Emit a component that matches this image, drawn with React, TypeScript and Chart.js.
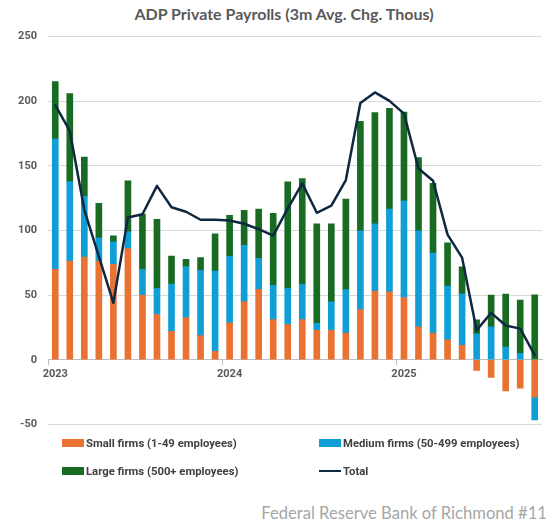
import React, { useEffect, useRef } from 'react';
import { Chart, registerables } from 'chart.js';

Chart.register(...registerables);

const categories = [
  'Jan 2023', 'Feb 2023', 'Mar 2023', 'Apr 2023', 'May 2023', 'Jun 2023',
  'Jul 2023', 'Aug 2023', 'Sep 2023', 'Oct 2023', 'Nov 2023', 'Dec 2023',
  'Jan 2024', 'Feb 2024', 'Mar 2024', 'Apr 2024', 'May 2024', 'Jun 2024',
  'Jul 2024', 'Aug 2024', 'Sep 2024', 'Oct 2024', 'Nov 2024', 'Dec 2024',
  'Jan 2025', 'Feb 2025', 'Mar 2025', 'Apr 2025', 'May 2025', 'Jun 2025',
  'Jul 2025', 'Aug 2025', 'Sep 2025', 'Oct 2025',
];

const smallFirms = [
  70, 76.4, 79.5, 76.4, 73.8, 86, 50, 35, 22, 32.6, 18.7, 6.5,
  28.5, 45, 54.4, 31, 27.2, 31, 22.8, 22.8, 20.7, 38.9, 53.1, 52.6,
  48.2, 25.4, 20.7, 15.5, 11.1, -8.3, -13.7, -24.1, -22, -29,
];

const mediumFirms = [
  101, 61.4, 46.9, 17.9, 17.4, 13, 20, 20.2, 36.6, 39.4, 50.5, 62.2,
  51.5, 43.6, 24.1, 26.5, 28, 27.3, 5.4, 22, 33.5, 60.9, 52.1, 64,
  74.8, 74.4, 61.9, 41.5, 39.9, 20, 25.4, 9.8, 4.9, -17.6,
];

const largeFirms = [
  44.3, 68.2, 30.4, 26.7, 4.7, 39.4, 42.7, 53.4, 21.7, 5.7, 9.8, 28.7,
  31.7, 27, 38.1, 55.7, 82.4, 81.9, 77, 60.4, 70.2, 84.7, 86, 78,
  68.7, 56.7, 53.9, 33.4, 20.8, 10.8, 24.6, 41, 41.2, 50.3,
];

const total = [
  197, 177, 116, 80, 44, 110, 112.6, 134.5, 118, 114.5, 108.3, 108.3,
  107.8, 105.2, 101, 96, 117, 136.5, 113.7, 119.2, 139, 198.7, 206.8, 200.3,
  190.4, 148, 138.5, 96.8, 79, 22.8, 36.3, 26.5, 24.1, 3.6,
];

const yMin = -50;
const yMax = 250;
const yStep = 50;

const seriesLabels = [
  'Small firms (1-49 employees)',
  'Medium firms (50-499 employees)',
  'Large firms (500+ employees)',
  'Total',
];

const COLORS = ['#E97132', '#0F9ED5', '#196B24', '#0E2841'];

const TEXT_FONT = 'Roboto, "Liberation Sans", sans-serif';

export default function App() {
  const canvasRef = useRef<HTMLCanvasElement>(null);

  useEffect(() => {
    const canvas = canvasRef.current;
    if (!canvas) return;
    const chart = new Chart(canvas, {
      type: 'bar',
      data: {
        labels: categories,
        datasets: [
          {
            label: seriesLabels[0],
            data: smallFirms,
            backgroundColor: COLORS[0],
            stack: 'firms',
            order: 1,
            barThickness: 6,
          },
          {
            label: seriesLabels[1],
            data: mediumFirms,
            backgroundColor: COLORS[1],
            stack: 'firms',
            order: 1,
            barThickness: 6,
          },
          {
            label: seriesLabels[2],
            data: largeFirms,
            backgroundColor: COLORS[2],
            stack: 'firms',
            order: 1,
            barThickness: 6,
          },
          {
            type: 'line',
            label: seriesLabels[3],
            data: total,
            borderColor: COLORS[3],
            backgroundColor: COLORS[3],
            borderWidth: 2.5,
            pointRadius: 0,
            tension: 0,
            stack: 'total',
            order: 0,
            borderJoinStyle: 'round',
            borderCapStyle: 'round',
          } as any,
        ],
      },
      options: {
        responsive: false,
        animation: false,
        layout: { padding: { left: 0, right: 8, top: 36.6, bottom: 9.4 } },
        plugins: {
          legend: { display: false },
          title: { display: false },
          tooltip: { enabled: false },
        },
        scales: {
          x: {
            type: 'category',
            stacked: true,
            position: { y: 0 } as any,
            offset: true,
            grid: {
              offset: true,
              drawOnChartArea: false,
              drawTicks: true,
              tickLength: 5,
              color: (ctx: any) => (ctx.index % 12 === 0 ? '#bfbfbf' : 'rgba(0,0,0,0)'),
            },
            border: { display: true, color: '#bfbfbf', width: 1 },
            ticks: {
              autoSkip: false,
              maxRotation: 0,
              minRotation: 0,
              padding: 3,
              color: '#595959',
              font: { family: TEXT_FONT, size: 11, weight: 'bold' },
              callback: (_v: any, i: number) =>
                categories[i].startsWith('Jan') ? categories[i].slice(4) : '',
            },
          },
          y: {
            stacked: true,
            min: yMin,
            max: yMax,
            ticks: {
              stepSize: yStep,
              padding: 11,
              color: '#595959',
              font: { family: TEXT_FONT, size: 11, weight: 'bold' },
            },
            grid: { color: '#d9d9d9', drawTicks: false },
            border: { display: false },
            afterFit: (s: any) => {
              s.width = 48;
            },
          },
        },
      },
    } as any);
    return () => chart.destroy();
  }, []);

  const legendItem = (i: number, left: number, top: number) => (
    <div
      key={i}
      style={{
        position: 'absolute',
        left,
        top: top - 8,
        height: 16,
        display: 'flex',
        alignItems: 'center',
        fontFamily: TEXT_FONT,
        fontWeight: 700,
        fontSize: 11.3,
        color: '#404040',
        whiteSpace: 'nowrap',
      }}
    >
      <span
        style={{
          display: 'inline-block',
          width: 22,
          height: i === 3 ? 2.5 : 8,
          background: COLORS[i],
          marginRight: 2,
        }}
      />
      {seriesLabels[i]}
    </div>
  );

  return (
    <div
      style={{
        position: 'absolute',
        left: 0,
        top: 0,
        width: 550,
        height: 523,
        background: '#ffffff',
        overflow: 'hidden',
      }}
    >
      <div
        style={{
          position: 'absolute',
          left: 0,
          top: 4,
          width: 568,
          textAlign: 'center',
          fontFamily: 'Lato, "Open Sans", sans-serif',
          fontWeight: 700,
          fontSize: 16,
          lineHeight: '20px',
          color: '#595959',
        }}
      >
        ADP Private Payrolls (3m Avg. Chg. Thous)
      </div>
      <canvas
        ref={canvasRef}
        width={550}
        height={442}
        style={{ position: 'absolute', left: 0, top: 0, width: 550, height: 442 }}
      />
      {legendItem(0, 62, 443)}
      {legendItem(1, 319, 443)}
      {legendItem(2, 62, 471)}
      {legendItem(3, 319, 471)}
      <div
        style={{
          position: 'absolute',
          right: 3,
          top: 502,
          fontFamily: 'Lato, "Open Sans", sans-serif',
          fontSize: 16.6,
          lineHeight: '22px',
          color: '#a6a6a6',
          whiteSpace: 'nowrap',
        }}
      >
        Federal Reserve Bank of Richmond #11
      </div>
    </div>
  );
}
